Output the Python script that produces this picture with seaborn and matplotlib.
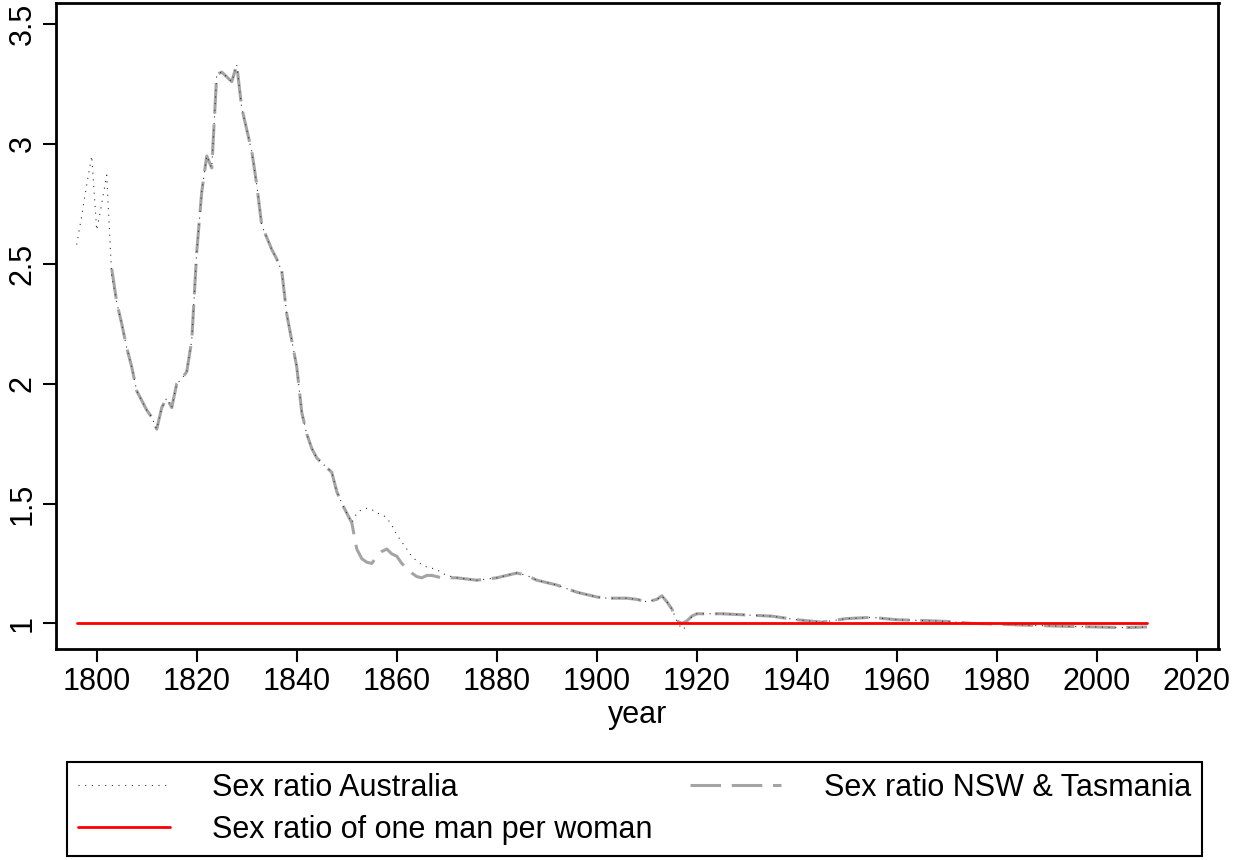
import numpy as np
import pandas as pd
import matplotlib
matplotlib.use("Agg")
import matplotlib.pyplot as plt
import seaborn as sns

# ---------------- data ----------------
aus_years = [1796, 1797, 1798, 1799, 1800, 1801, 1802, 1803, 1804, 1805, 1806, 1807, 1808, 1809,
             1810, 1811, 1812, 1813, 1814, 1815, 1816, 1817, 1818, 1819, 1820, 1821, 1822, 1823,
             1824, 1825, 1826, 1827, 1828, 1829, 1830, 1831, 1832, 1833, 1834, 1835, 1836, 1837,
             1838, 1839, 1840, 1841, 1842, 1843, 1844, 1845, 1846, 1847, 1848, 1849, 1850, 1851,
             1852, 1853, 1854, 1855, 1856, 1857, 1858, 1859, 1860, 1861, 1862, 1863, 1864, 1865,
             1866, 1867, 1868, 1869, 1870, 1872, 1874, 1876, 1878, 1880, 1882, 1884, 1886, 1888,
             1890, 1892, 1894, 1896, 1898, 1900, 1902, 1904, 1906, 1908, 1910, 1912, 1913, 1914,
             1915, 1916, 1917, 1918, 1919, 1920, 1925, 1930, 1935, 1940, 1945, 1950, 1955, 1960,
             1965, 1970, 1975, 1980, 1985, 1990, 1995, 2000, 2005, 2010]
aus_ratio = [2.58, 2.70, 2.83, 2.95, 2.64, 2.75, 2.87, 2.45, 2.34, 2.25, 2.15, 2.07, 1.97, 1.93,
             1.89, 1.86, 1.81, 1.90, 1.94, 1.90, 2.00, 2.02, 2.05, 2.18, 2.55, 2.80, 2.95, 2.90,
             3.29, 3.30, 3.28, 3.26, 3.33, 3.15, 3.06, 2.97, 2.83, 2.66, 2.61, 2.56, 2.52, 2.47,
             2.29, 2.18, 2.07, 1.88, 1.79, 1.73, 1.69, 1.67, 1.65, 1.63, 1.55, 1.50, 1.46, 1.42,
             1.46, 1.475, 1.48, 1.475, 1.46, 1.455, 1.44, 1.41, 1.37, 1.34, 1.31, 1.28, 1.26, 1.245,
             1.235, 1.23, 1.225, 1.21, 1.20, 1.19, 1.185, 1.18, 1.185, 1.19, 1.20, 1.21, 1.20, 1.18,
             1.17, 1.16, 1.145, 1.13, 1.12, 1.11, 1.105, 1.105, 1.105, 1.10, 1.09, 1.10, 1.115, 1.09,
             1.06, 1.01, 0.975, 0.985, 1.03, 1.04, 1.04, 1.035, 1.03, 1.015, 1.005, 1.02, 1.025, 1.015,
             1.012, 1.008, 1.0, 0.997, 0.993, 0.99, 0.987, 0.985, 0.982, 0.985]

nsw_years = [1803, 1804, 1805, 1806, 1807, 1808, 1809, 1810, 1811, 1812, 1813, 1814, 1815, 1816,
             1817, 1818, 1819, 1820, 1821, 1822, 1823, 1824, 1825, 1826, 1827, 1828, 1829, 1830,
             1831, 1832, 1833, 1834, 1835, 1836, 1837, 1838, 1839, 1840, 1841, 1842, 1843, 1844,
             1845, 1846, 1847, 1848, 1849, 1850, 1851, 1852, 1853, 1854, 1855, 1856, 1857, 1858,
             1859, 1860, 1861, 1862, 1863, 1864, 1865, 1866, 1867, 1868, 1869, 1870, 1872, 1874,
             1876, 1878, 1880, 1882, 1884, 1886, 1888, 1890, 1892, 1894, 1896, 1898, 1900, 1902,
             1904, 1906, 1908, 1910, 1912, 1913, 1914, 1915, 1916, 1917, 1918, 1919, 1920, 1925,
             1930, 1935, 1940, 1945, 1950, 1955, 1960, 1965, 1970, 1975, 1980, 1985, 1990, 1995,
             2000, 2005, 2010]
nsw_ratio = [2.48, 2.34, 2.25, 2.15, 2.07, 1.97, 1.93, 1.89, 1.86, 1.81, 1.90, 1.94, 1.90, 2.00,
             2.02, 2.05, 2.18, 2.55, 2.80, 2.95, 2.90, 3.29, 3.30, 3.28, 3.26, 3.33, 3.15, 3.06,
             2.97, 2.83, 2.66, 2.61, 2.56, 2.52, 2.47, 2.29, 2.18, 2.07, 1.88, 1.79, 1.73, 1.69,
             1.67, 1.65, 1.63, 1.55, 1.50, 1.46, 1.42, 1.31, 1.27, 1.255, 1.25, 1.28, 1.30, 1.31,
             1.29, 1.28, 1.25, 1.23, 1.21, 1.195, 1.19, 1.20, 1.20, 1.195, 1.19, 1.19, 1.19, 1.185,
             1.18, 1.185, 1.19, 1.20, 1.21, 1.20, 1.18, 1.17, 1.16, 1.145, 1.13, 1.12, 1.11, 1.105,
             1.105, 1.105, 1.10, 1.09, 1.10, 1.115, 1.09, 1.06, 1.01, 1.00, 1.01, 1.03, 1.04, 1.04,
             1.035, 1.03, 1.015, 1.005, 1.02, 1.025, 1.015, 1.012, 1.008, 1.0, 0.997, 0.993, 0.99, 0.987,
             0.985, 0.982, 0.985]

ref_years = [1796, 2010]
ref_ratio = [1.0, 1.0]

x_ticks = [1800, 1820, 1840, 1860, 1880, 1900, 1920, 1940, 1960, 1980, 2000, 2020]
y_ticks = [1, 1.5, 2, 2.5, 3, 3.5]
y_tick_labels = ["1", "1.5", "2", "2.5", "3", "3.5"]

label_aus = "Sex ratio Australia"
label_nsw = "Sex ratio NSW & Tasmania"
label_ref = "Sex ratio of one man per woman"

# ---------------- style ----------------
sns.set_style("ticks")
plt.rcParams["font.family"] = ["Liberation Sans", "DejaVu Sans"]
plt.rcParams["text.color"] = "black"
plt.rcParams["axes.labelcolor"] = "black"
plt.rcParams["xtick.color"] = "black"
plt.rcParams["ytick.color"] = "black"
FS = 22

fig = plt.figure(figsize=(12.35, 8.6), dpi=100)
W, H = 1235, 860
ax = fig.add_axes([56 / W, 1 - 649 / H, (1218.5 - 56) / W, (649 - 3.3) / H])

df_nsw = pd.DataFrame({"year": nsw_years, "ratio": nsw_ratio})
df_aus = pd.DataFrame({"year": aus_years, "ratio": aus_ratio})
df_ref = pd.DataFrame({"year": ref_years, "ratio": ref_ratio})

sns.lineplot(data=df_nsw, x="year", y="ratio", ax=ax, color="#A4A4A4", lw=2.2,
             linestyle=(0, (10, 3.5)), label=label_nsw)
sns.lineplot(data=df_aus, x="year", y="ratio", ax=ax, color="#333333", lw=0.8,
             linestyle=(0, (1, 5)), label=label_aus)
sns.lineplot(data=df_ref, x="year", y="ratio", ax=ax, color="#FF0000", lw=2.0,
             label=label_ref)

ax.set_xlim(1791.86, 2024.3)
ax.set_ylim(0.893, 3.587)
ax.set_xticks(x_ticks)
ax.set_yticks(y_ticks)
ax.set_yticklabels(y_tick_labels)
ax.tick_params(axis="both", direction="out", length=9.1, width=1.5, color="black",
               labelsize=FS, labelcolor="black", pad=4)
ax.tick_params(axis="y", labelrotation=90)
for lab in ax.get_yticklabels():
    lab.set_va("center")
for s in ax.spines.values():
    s.set_visible(True)
    s.set_linewidth(2.0)
    s.set_color("black")
ax.set_xlabel("year", fontsize=FS, labelpad=2, color="black")
ax.set_ylabel("")

# legend
lines = {l.get_label(): l for l in ax.get_lines()}
ax.get_legend().remove()
handles = [lines[label_aus], lines[label_ref], lines[label_nsw]]
labels = [label_aus, label_ref, label_nsw]
leg = fig.legend(handles, labels, ncol=2, loc="upper left",
                 bbox_to_anchor=(67 / W, 1 - 761.5 / H), frameon=True, fancybox=False,
                 edgecolor="black", framealpha=1, fontsize=FS, handlelength=3.0,
                 handletextpad=1.4, columnspacing=1.2, labelspacing=0.41,
                 borderpad=0.36, borderaxespad=0)
leg.get_frame().set_linewidth(1.5)
for t in leg.get_texts():
    t.set_color("black")

fig.savefig("out.png", dpi=100)
